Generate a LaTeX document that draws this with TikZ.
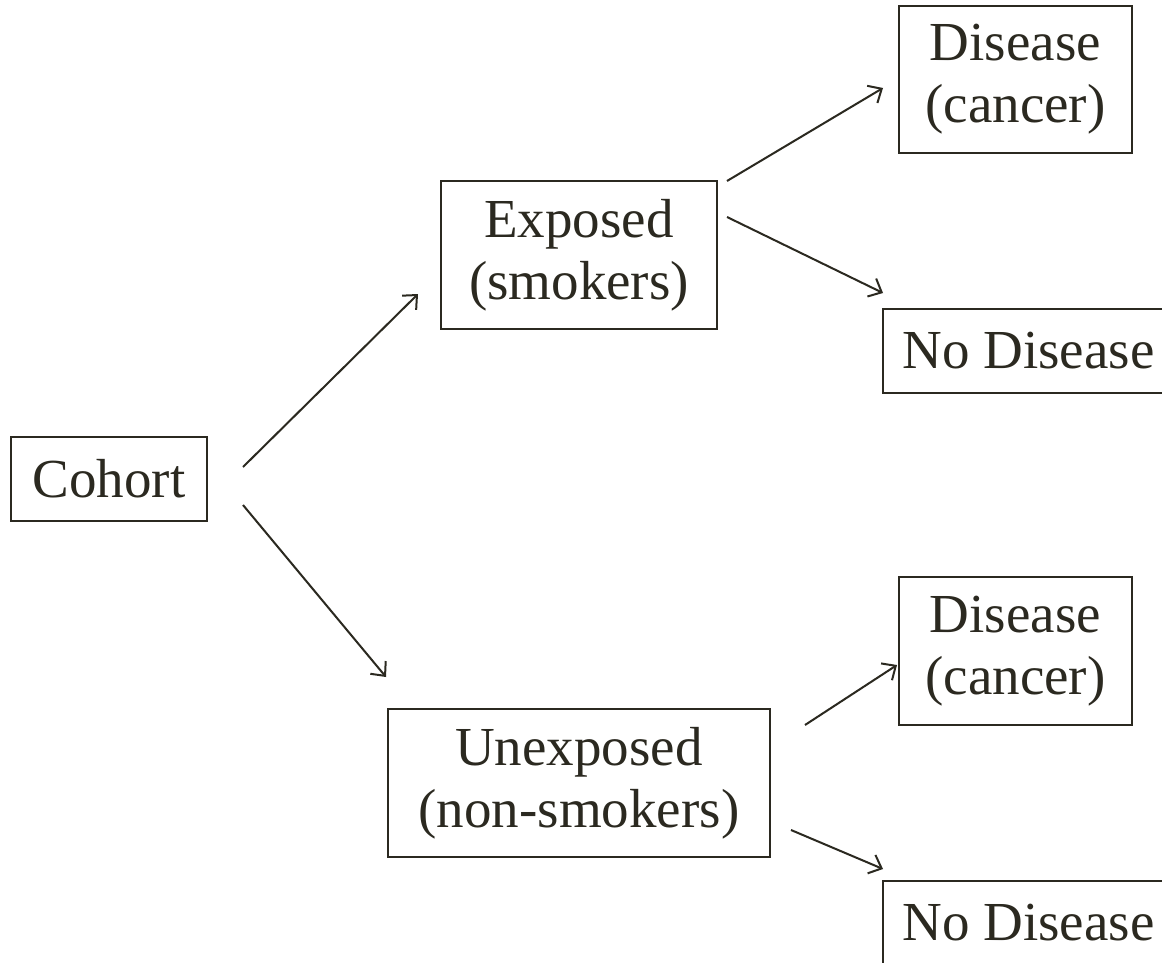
\documentclass[tikz,border=0pt]{standalone}
\usepackage{fontspec}
\setmainfont{Liberation Serif}
\usetikzlibrary{arrows.meta}
\definecolor{ink}{HTML}{2B2920}
\tikzset{
  box/.style={draw=ink, line width=2pt, text=ink, inner sep=0pt, align=center,
    font=\fontsize{55}{62}\selectfont},
  conn/.style={draw=ink, line width=2pt, -{Straight Barb[length=11pt,width=20pt,line width=2pt]}}
}
\begin{document}
\begin{tikzpicture}[x=1pt,y=-1pt]
\useasboundingbox (0,0) rectangle (1162,963);
\clip (0,0) rectangle (1162,963);
\fill[white] (0,0) rectangle (1162,963);
\node[box, minimum width=196pt, minimum height=84pt] (cohort) at (109,479) {Cohort};
\node[box, minimum width=276pt, minimum height=148pt] (exp) at (579,255) {Exposed\\(smokers)};
\node[box, minimum width=382pt, minimum height=148pt] (unexp) at (579,783) {Unexposed\\(non-smokers)};
\node[box, minimum width=233pt, minimum height=147pt] (dis1) at (1015.5,79.5) {Disease\\(cancer)};
\node[box, minimum width=291pt, minimum height=84pt] (nod1) at (1028.5,351) {No Disease};
\node[box, minimum width=233pt, minimum height=148pt] (dis2) at (1015.5,651) {Disease\\(cancer)};
\node[box, minimum width=291pt, minimum height=84pt] (nod2) at (1028.5,923) {No Disease};
\coordinate (c1s) at (243,467);
\coordinate (c1e) at (418,294);
\coordinate (c2s) at (243,505);
\coordinate (c2e) at (386,677);
\coordinate (e1s) at (727,181);
\coordinate (e1e) at (883,88);
\coordinate (e2s) at (727,217);
\coordinate (e2e) at (883,293);
\coordinate (u1s) at (805,725);
\coordinate (u1e) at (897,665);
\coordinate (u2s) at (791,830);
\coordinate (u2e) at (883,869);
\draw[conn] (c1s) -- (c1e);
\draw[conn] (c2s) -- (c2e);
\draw[conn] (e1s) -- (e1e);
\draw[conn] (e2s) -- (e2e);
\draw[conn] (u1s) -- (u1e);
\draw[conn] (u2s) -- (u2e);
\end{tikzpicture}
\end{document}
